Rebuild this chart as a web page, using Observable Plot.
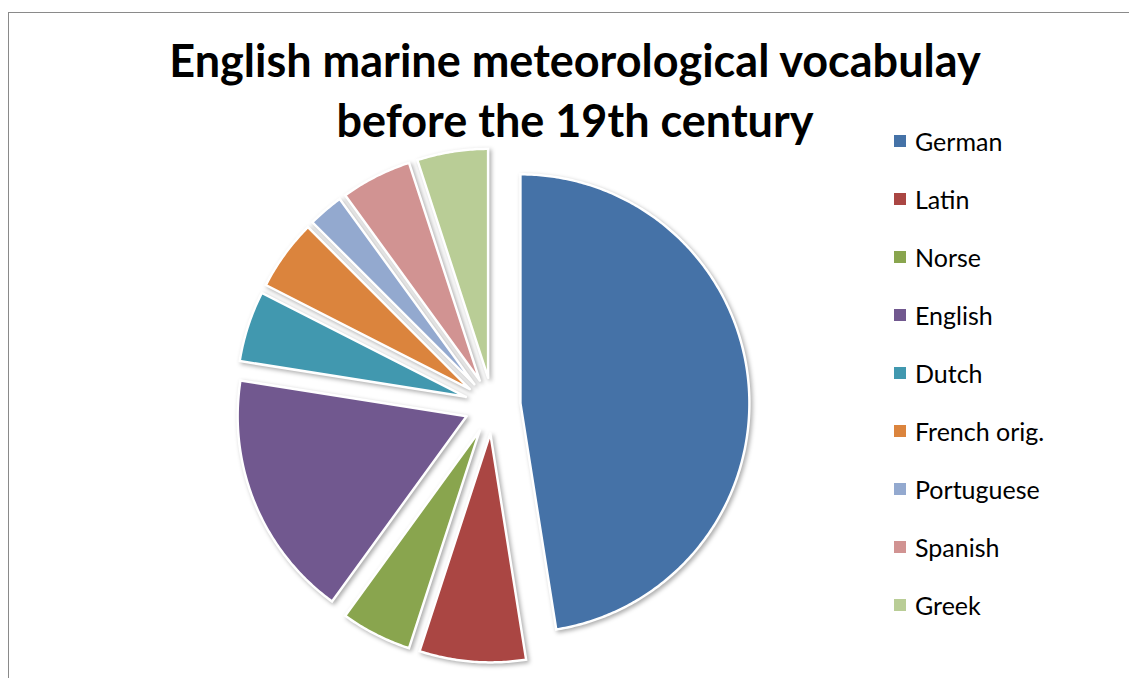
<!DOCTYPE html>
<html>
<head>
<meta charset="utf-8">
<script src="https://cdn.jsdelivr.net/npm/d3@7"></script>
<script src="https://cdn.jsdelivr.net/npm/@observablehq/plot@0.6"></script>
<style>
  html, body { margin: 0; padding: 0; background: #fff; overflow: hidden; }
  #wrap { position: relative; width: 1129px; height: 678px; overflow: hidden; font-family: Lato, "Open Sans", sans-serif; }
  #frame { position: absolute; left: 8px; top: 12px; width: 1300px; height: 800px; border-top: 1.5px solid #8a8a8a; border-left: 1.5px solid #8a8a8a; }
  #chart { position: absolute; left: 0; top: 0; }
  #title { position: absolute; left: 0; top: 30px; width: 1150px; text-align: center; font-weight: bold; font-size: 45px; line-height: 60px; color: #000; white-space: nowrap; }
  #legend { position: absolute; left: 894px; top: 112px; }
  .row { height: 58px; display: flex; align-items: center; font-size: 25px; color: #000; }
  .sw { width: 12px; height: 12px; margin-right: 9px; flex: none; }
  .pie g[aria-label="line"] { filter: drop-shadow(2px 2.5px 2px rgba(0,0,0,0.32)); }
</style>
</head>
<body>
<div id="wrap">
  <div id="frame"></div>
  <div id="chart"></div>
  <div id="title">English marine meteorological vocabulay<br>before the 19th century</div>
  <div id="legend"></div>
</div>
<script>
// ---- data ----
const languages = ["German", "Latin", "Norse", "English", "Dutch", "French orig.", "Portuguese", "Spanish", "Greek"];
const counts = [19, 3, 2, 7, 2, 2, 1, 2, 2];
const colors = ["#4572A7", "#AA4643", "#89A54E", "#71588F", "#4198AF", "#DB843D", "#93A9CF", "#D19392", "#B9CD96"];

// ---- layout ----
const W = 1129, H = 678;
const cx = 492, cy = 405, R = 229, explode = 28;

const arcs = d3.pie().sort(null).value(d => d.count)(languages.map((name, i) => ({name, count: counts[i]})));

const pts = [];
for (const a of arcs) {
  const mid = (a.startAngle + a.endAngle) / 2;
  const ox = cx + explode * Math.sin(mid), oy = cy - explode * Math.cos(mid);
  pts.push({name: a.data.name, x: ox, y: oy});
  const n = Math.max(4, Math.ceil((a.endAngle - a.startAngle) / 0.01));
  for (let k = 0; k <= n; k++) {
    const t = a.startAngle + (a.endAngle - a.startAngle) * k / n;
    pts.push({name: a.data.name, x: ox + R * Math.sin(t), y: oy - R * Math.cos(t)});
  }
  pts.push({name: a.data.name, x: ox, y: oy});
}

const plot = Plot.plot({
  className: "pie",
  width: W, height: H,
  margin: 0,
  x: {type: "linear", domain: [0, W], range: [0, W], axis: null},
  y: {type: "linear", domain: [0, H], range: [0, H], axis: null},
  color: {domain: languages, range: colors},
  marks: [
    Plot.line(pts, {x: "x", y: "y", z: "name", fill: "name", stroke: "white", strokeWidth: 2.5, strokeLinejoin: "miter", strokeMiterlimit: 4, curve: "linear"})
  ]
});
document.getElementById("chart").appendChild(plot);

const leg = document.getElementById("legend");
languages.forEach((name, i) => {
  const row = document.createElement("div");
  row.className = "row";
  const sw = document.createElement("span");
  sw.className = "sw";
  sw.style.background = colors[i];
  const tx = document.createElement("span");
  tx.textContent = name;
  row.appendChild(sw); row.appendChild(tx);
  leg.appendChild(row);
});
</script>
</body>
</html>
